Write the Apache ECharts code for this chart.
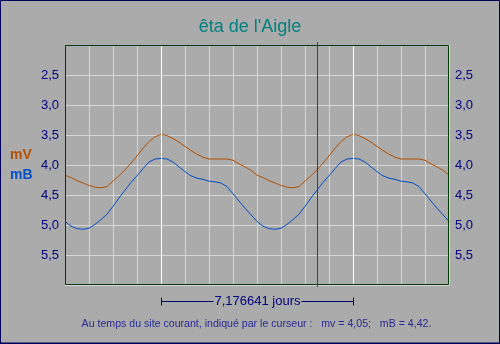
<!DOCTYPE html>
<html><head><meta charset="utf-8">
<script src="https://cdn.jsdelivr.net/npm/echarts@6/dist/echarts.min.js"></script>
<style>html,body{margin:0;padding:0;background:#ababab;}#c{width:500px;height:344px;}</style>
</head><body><div id="c"></div>
<script>
// Phase positions for one cycle (two cycles are displayed)
const cyclePhase = [0,0.03125,0.0625,0.09375,0.125,0.15625,0.1875,0.21875,0.25,0.28125,0.3125,0.34375,0.375,0.40625,0.4375,0.46875,0.5,0.53125,0.5625,0.59375,0.625,0.65625,0.6875,0.71875,0.75,0.78125,0.8125,0.84375,0.875,0.90625,0.9375,0.96875,1];
// Visual magnitude mV over one cycle
const mV = [4.17,4.21,4.26,4.30,4.34,4.37,4.38,4.36,4.27,4.18,4.08,3.97,3.85,3.72,3.61,3.53,3.49,3.51,3.56,3.62,3.69,3.76,3.82,3.87,3.90,3.90,3.90,3.90,3.92,3.98,4.03,4.09,4.17];
// Blue magnitude mB over one cycle
const mB = [4.94,5.02,5.06,5.07,5.055,4.99,4.91,4.82,4.69,4.55,4.42,4.29,4.18,4.06,3.95,3.90,3.89,3.90,3.95,4.03,4.11,4.18,4.22,4.24,4.27,4.28,4.30,4.36,4.48,4.60,4.72,4.83,4.94];
const cycles = 2;
const yTicks = [2.5,3.0,3.5,4.0,4.5,5.0,5.5];
const maxPhases = [0.5,1.5];
const cursorPhase = 1.314;
const periodText = '7,176641 jours';
const title = "êta de l'Aigle";
const infoText = 'Au temps du site courant, indiqué par le curseur :   mv = 4,05;   mB = 4,42.';

function build(vals){
  const out = [];
  for (let c = 0; c < cycles; c++) {
    for (let i = (c === 0 ? 0 : 1); i < cyclePhase.length; i++) out.push([cyclePhase[i] + c, vals[i]]);
  }
  return out;
}
const fmt = v => yTicks.indexOf(Math.round(v*10)/10) >= 0 ? v.toFixed(1).replace('.', ',') : '';
const font = 'Liberation Sans, Arial, sans-serif';
const chart = echarts.init(document.getElementById('c'), null, {renderer:'canvas'});
const yAxisBase = {
  type:'value', inverse:true, min:2, max:6, interval:0.5,
  axisLine:{show:false}, axisTick:{show:false},
  axisLabel:{formatter:fmt, color:'#000080', fontSize:13, fontFamily:font, margin:6},
};
chart.setOption({
  backgroundColor:'#ababab',
  animation:false,
  title:{text:title, left:'center', top:13, textStyle:{color:'#008080', fontSize:18, fontWeight:'normal', fontFamily:font}},
  grid:{left:65, top:45, width:384, height:240, show:false},
  xAxis:{type:'value', min:0, max:cycles, interval:0.125,
    axisLine:{show:false}, axisTick:{show:false}, axisLabel:{show:false},
    splitLine:{show:true, lineStyle:{color:'#d6d6d6', width:1}}},
  yAxis:[
    Object.assign({}, yAxisBase, {position:'left', splitLine:{show:true, lineStyle:{color:'#d6d6d6', width:1}}}),
    Object.assign({}, yAxisBase, {position:'right', splitLine:{show:false}})
  ],
  series:[
    {name:'mV', type:'line', data:build(mV), showSymbol:false, lineStyle:{color:'#b45000', width:1}, z:3,
      markLine:{silent:true, symbol:['none','none'], label:{show:false}, lineStyle:{color:'#ffffff', type:'solid', width:1},
        data:maxPhases.map(p => ({xAxis:p}))}},
    {name:'mB', type:'line', data:build(mB), showSymbol:false, lineStyle:{color:'#0050c8', width:1}, z:3}
  ]
});
// Cursor, frame and period bracket positioned from data coordinates
const px = v => Math.round(chart.convertToPixel({xAxisIndex:0}, v)) + 0.5;
const py = v => Math.round(chart.convertToPixel({yAxisIndex:0}, v)) + 0.5;
const cx = px(cursorPhase), x0 = px(maxPhases[0]), x1 = px(maxPhases[1]);
const gl = px(0), gr = px(cycles) - 1, gt = py(2), gb = py(6) - 1;
const by = 301.5;
chart.setOption({graphic:[
  {id:'lmv', type:'text', left:10, top:148, style:{text:'mV', fill:'#b45000', font:'bold 14px '+font}},
  {id:'lmb', type:'text', left:10, top:168, style:{text:'mB', fill:'#0050c8', font:'bold 14px '+font}},
  {id:'frame', type:'rect', shape:{x:0.5, y:0.5, width:499, height:342.5}, style:{fill:'none', stroke:'#00005a', lineWidth:1}, z:100},
  {id:'frameb', type:'line', shape:{x1:0, y1:343.5, x2:500, y2:343.5}, style:{stroke:'#00005a', lineWidth:1}, z:100},
  {id:'gridbox', type:'rect', shape:{x:gl, y:gt, width:gr-gl, height:gb-gt}, style:{fill:'none', stroke:'#003c00', lineWidth:1}, z:40},
  {id:'cursor', type:'line', shape:{x1:cx, y1:42, x2:cx, y2:287}, style:{stroke:'#404040', lineWidth:1}, z:50},
  {id:'br', type:'line', shape:{x1:x0, y1:by, x2:x1, y2:by}, style:{stroke:'#000060', lineWidth:1}, z:50},
  {id:'brl', type:'line', shape:{x1:x0, y1:by-4, x2:x0, y2:by+4}, style:{stroke:'#000060', lineWidth:1}, z:50},
  {id:'brr', type:'line', shape:{x1:x1, y1:by-4, x2:x1, y2:by+4}, style:{stroke:'#000060', lineWidth:1}, z:50},
  {id:'per', type:'text', x:(x0+x1)/2, y:by, style:{text:periodText, fill:'#000080', font:'13px '+font, align:'center', verticalAlign:'middle', backgroundColor:'#ababab', padding:[0,1]}, z:60},
  {id:'info', type:'text', x:256.5, y:324, style:{text:infoText, fill:'#2a2a96', font:'10.6px '+font, align:'center', verticalAlign:'middle'}, z:60}
]});
</script>
</body></html>
